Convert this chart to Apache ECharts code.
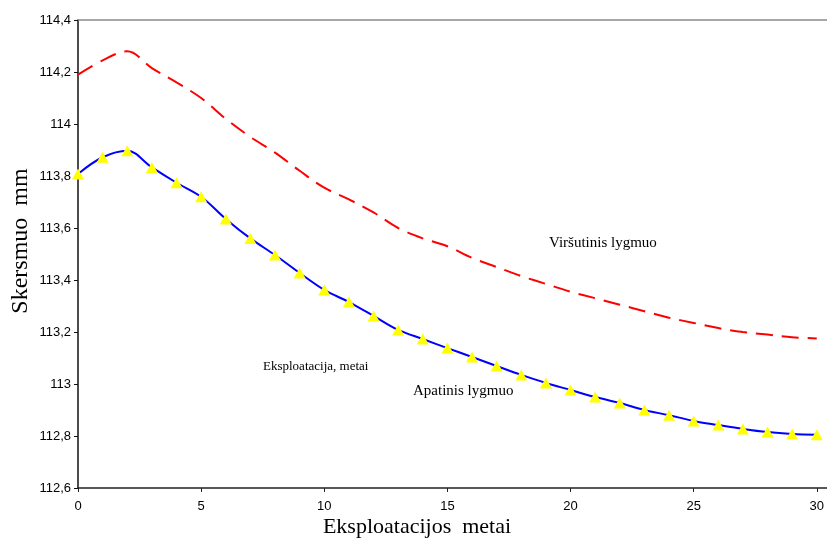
<!DOCTYPE html>
<html>
<head>
<meta charset="utf-8">
<script src="https://cdn.jsdelivr.net/npm/echarts@6/dist/echarts.min.js"></script>
<style>
  html, body { margin: 0; padding: 0; background: #fff; }
  #chart { width: 827px; height: 540px; }
</style>
</head>
<body>
<div id="chart"></div>
<script>
// Exploitation years
const years = [0, 1, 2, 3, 4, 5, 6, 7, 8, 9, 10, 11, 12, 13, 14, 15,
               16, 17, 18, 19, 20, 21, 22, 23, 24, 25, 26, 27, 28, 29, 30];

// Upper level diameter, mm (dashed red)
const upperLevel = [114.19, 114.245, 114.28, 114.215, 114.16, 114.10, 114.02, 113.95,
                    113.89, 113.82, 113.755, 113.71, 113.66, 113.60, 113.56, 113.53,
                    113.485, 113.45, 113.415, 113.385, 113.355, 113.33, 113.305, 113.28,
                    113.255, 113.235, 113.215, 113.20, 113.19, 113.18, 113.175];

// Lower level diameter, mm (blue with triangles)
const lowerLevel = [113.808, 113.872, 113.897, 113.833, 113.774, 113.72, 113.635, 113.56,
                    113.496, 113.427, 113.362, 113.315, 113.262, 113.208, 113.173, 113.138,
                    113.104, 113.069, 113.035, 113.004, 112.977, 112.95, 112.927, 112.90,
                    112.88, 112.858, 112.842, 112.827, 112.815, 112.808, 112.805];

const xTickValues = [0, 5, 10, 15, 20, 25, 30];

const axisTitleY = 'Skersmuo  mm';
const axisTitleX = 'Eksploatacijos  metai';
const upperLabel = 'Viršutinis lygmuo';
const lowerLabel = 'Apatinis lygmuo';
const noteLabel = 'Eksploatacija, metai';

const sans = 'Liberation Sans, Arial, sans-serif';
const serif = 'Liberation Serif, Times New Roman, serif';

const pairs = (vals) => years.map((y, i) => [y, vals[i]]);

const chart = echarts.init(document.getElementById('chart'), null, { renderer: 'canvas' });

chart.setOption({
  animation: false,
  backgroundColor: '#ffffff',
  grid: { left: 78, right: 0, top: 20, bottom: 52, containLabel: false },
  xAxis: [
    {
      type: 'value',
      min: 0,
      max: 30.4,
      interval: 5,
      position: 'bottom',
      axisLine: { show: true, onZero: false, lineStyle: { color: '#222', width: 1.5 } },
      axisTick: { show: true, inside: false, length: 4, customValues: xTickValues,
                  lineStyle: { color: '#222', width: 1 } },
      axisLabel: { customValues: xTickValues, margin: 12, color: '#000',
                   fontFamily: sans, fontSize: 13 },
      splitLine: { show: false }
    },
    {
      type: 'value',
      min: 0,
      max: 30.4,
      position: 'top',
      axisLine: { show: true, onZero: false, lineStyle: { color: '#8a8a8a', width: 1.5 } },
      axisTick: { show: false },
      axisLabel: { show: false },
      splitLine: { show: false }
    }
  ],
  yAxis: {
    type: 'value',
    min: 112.6,
    max: 114.4,
    interval: 0.2,
    axisLine: { show: true, onZero: false, lineStyle: { color: '#111', width: 1.5 } },
    axisTick: { show: true, inside: false, length: 4, lineStyle: { color: '#111', width: 1 } },
    axisLabel: {
      margin: 7,
      color: '#000',
      fontFamily: sans,
      fontSize: 13,
      formatter: (v) => String(Math.round(v * 10) / 10).replace('.', ',')
    },
    splitLine: { show: false }
  },
  series: [
    {
      name: upperLabel,
      type: 'line',
      data: pairs(upperLevel),
      smooth: 0.35,
      showSymbol: false,
      symbol: 'none',
      lineStyle: { color: '#ff0000', width: 2, type: [17, 9] },
      z: 3
    },
    {
      name: lowerLabel,
      type: 'line',
      data: pairs(lowerLevel),
      smooth: 0.35,
      symbol: 'triangle',
      symbolSize: [12, 11],
      itemStyle: { color: '#ffff00', borderWidth: 0 },
      lineStyle: { color: '#0000ff', width: 2 },
      z: 4
    }
  ],
  graphic: [
    {
      type: 'text',
      x: 21, y: 241,
      rotation: Math.PI / 2,
      style: { text: axisTitleY, fill: '#000', font: '24px ' + serif,
               align: 'center', verticalAlign: 'middle' }
    },
    {
      type: 'text',
      x: 417, y: 527,
      style: { text: axisTitleX, fill: '#000', font: '22px ' + serif,
               align: 'center', verticalAlign: 'middle' }
    },
    {
      type: 'text',
      x: 549, y: 243,
      style: { text: upperLabel, fill: '#000', font: '15px ' + serif,
               align: 'left', verticalAlign: 'middle' }
    },
    {
      type: 'text',
      x: 413, y: 391,
      style: { text: lowerLabel, fill: '#000', font: '15px ' + serif,
               align: 'left', verticalAlign: 'middle' }
    },
    {
      type: 'text',
      x: 263, y: 367,
      style: { text: noteLabel, fill: '#000', font: '13px ' + serif,
               align: 'left', verticalAlign: 'middle' }
    }
  ]
});
</script>
</body>
</html>
